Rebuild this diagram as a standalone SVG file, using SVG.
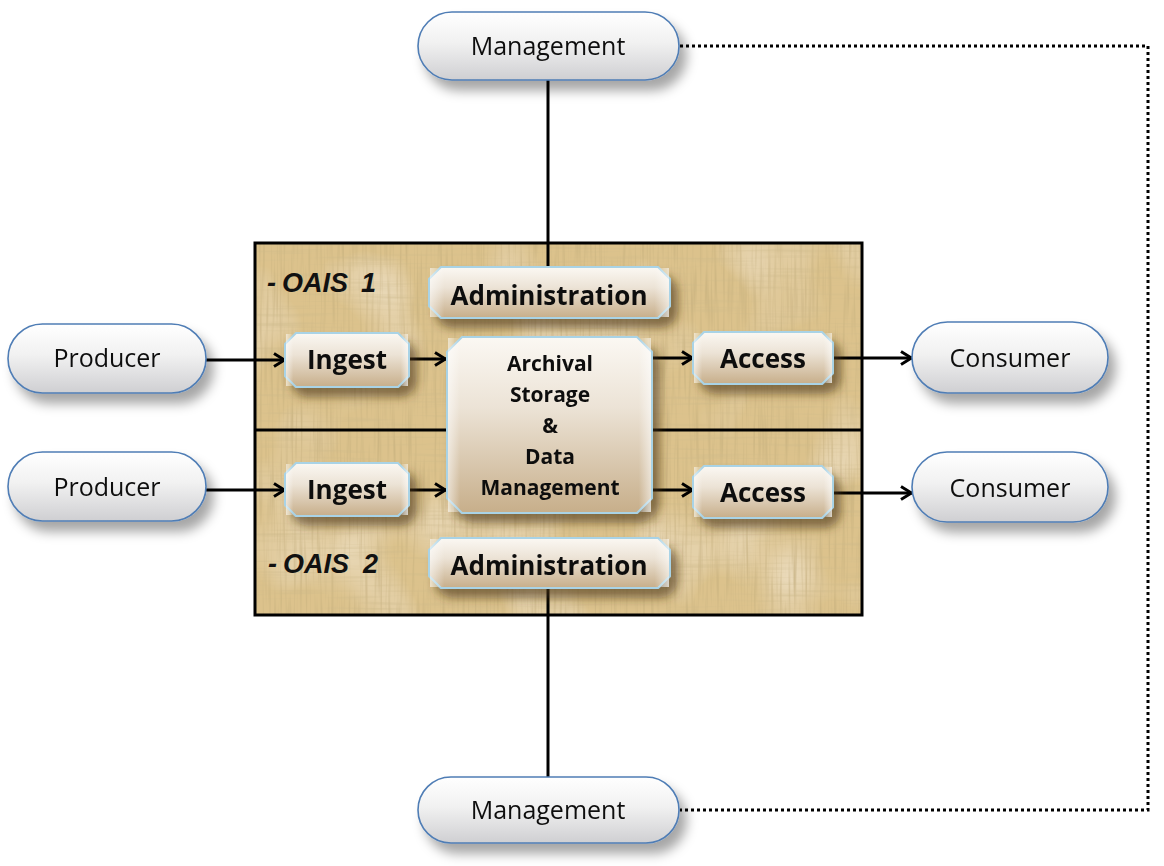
<svg xmlns="http://www.w3.org/2000/svg" width="1164" height="866" viewBox="0 0 1164 866">
<defs>
  <linearGradient id="pillFill" x1="0" y1="0" x2="0" y2="1">
    <stop offset="0" stop-color="#ffffff"/>
    <stop offset="0.45" stop-color="#f1f1f1"/>
    <stop offset="1" stop-color="#cfcfd2"/>
  </linearGradient>
  <linearGradient id="boxFill" x1="0" y1="0" x2="0" y2="1">
    <stop offset="0" stop-color="#fbf8f3"/>
    <stop offset="0.4" stop-color="#ece3d6"/>
    <stop offset="1" stop-color="#c7ae8a"/>
  </linearGradient>
  <linearGradient id="sideShade" x1="0" y1="0" x2="1" y2="0">
    <stop offset="0" stop-color="#ffffff" stop-opacity="0.55"/>
    <stop offset="0.06" stop-color="#ffffff" stop-opacity="0"/>
    <stop offset="0.94" stop-color="#ffffff" stop-opacity="0"/>
    <stop offset="1" stop-color="#ffffff" stop-opacity="0.55"/>
  </linearGradient>
  <filter id="papyrus" x="0" y="0" width="100%" height="100%">
    <feFlood flood-color="#dcc28c" result="base"/>
    <feTurbulence type="fractalNoise" baseFrequency="0.35 0.015" numOctaves="2" seed="3" result="n1"/>
    <feColorMatrix in="n1" type="matrix" values="0 0 0 0 0.55  0 0 0 0 0.42  0 0 0 0 0.2  0 0 0 1.6 -0.75" result="c1"/>
    <feTurbulence type="fractalNoise" baseFrequency="0.012 0.3" numOctaves="2" seed="9" result="n2"/>
    <feColorMatrix in="n2" type="matrix" values="0 0 0 0 0.6  0 0 0 0 0.48  0 0 0 0 0.25  0 0 0 1.2 -0.6" result="c2"/>
    <feTurbulence type="fractalNoise" baseFrequency="0.012 0.01" numOctaves="2" seed="5" result="n3"/>
    <feColorMatrix in="n3" type="matrix" values="0 0 0 0 0.97  0 0 0 0 0.92  0 0 0 0 0.8  0 0 0 1.2 -0.6" result="c3"/>
    <feMerge>
      <feMergeNode in="base"/>
      <feMergeNode in="c3"/>
      <feMergeNode in="c1"/>
      <feMergeNode in="c2"/>
    </feMerge>
  </filter>
  <filter id="pillShadow" x="-20%" y="-30%" width="150%" height="180%">
    <feDropShadow dx="7" dy="10" stdDeviation="6" flood-color="#000000" flood-opacity="0.35"/>
  </filter>
  <filter id="boxShadow" x="-20%" y="-30%" width="150%" height="180%">
    <feDropShadow dx="7" dy="9" stdDeviation="5" flood-color="#4a3010" flood-opacity="0.6"/>
  </filter>
  <marker id="arrow" viewBox="0 0 14 16" refX="13" refY="8" markerWidth="14" markerHeight="16" markerUnits="userSpaceOnUse" orient="auto">
    <path d="M2,1.5 L12.5,8 L2,14.5" fill="none" stroke="#000" stroke-width="3" stroke-linejoin="miter"/>
  </marker>
  <style>
    .pill { fill: url(#pillFill); stroke: #4f7db5; stroke-width: 1.6; }
    .pilltxt { font-family: "Open Sans", "Liberation Sans", sans-serif; font-size: 25px; fill: #111; text-anchor: middle; }
    .box { fill: url(#boxFill); stroke: #a9d3e6; stroke-width: 2; }
    .boxhl { fill: url(#sideShade); stroke: none; }
    .boxtxt { font-family: "Open Sans", "Liberation Sans", sans-serif; font-weight: 700; font-size: 26px; fill: #111; text-anchor: middle; }
    .archtxt { font-family: "Open Sans", "Liberation Sans", sans-serif; font-weight: 700; font-size: 21px; fill: #111; text-anchor: middle; }
    .oais { font-family: "Liberation Sans", Arial, sans-serif; font-weight: 700; font-style: italic; font-size: 27px; fill: #111; }
    .line { stroke: #000; stroke-width: 3; fill: none; }
    .arr { stroke: #000; stroke-width: 3; fill: none; marker-end: url(#arrow); }
    .dot { stroke: #000; stroke-width: 3; fill: none; stroke-dasharray: 3 3; }
  </style>
</defs>

<rect x="0" y="0" width="1164" height="866" fill="#ffffff"/>

<!-- OAIS container -->
<g id="oais-container">
  <rect x="255" y="243" width="607" height="372" filter="url(#papyrus)"/>
  <rect x="255" y="243" width="607" height="372" fill="none" stroke="#000" stroke-width="3"/>
  <line x1="255" y1="430" x2="448" y2="430" class="line"/>
  <line x1="652" y1="430" x2="862" y2="430" class="line"/>
  <text y="292" class="oais"><tspan x="267">-</tspan><tspan x="282">OAIS</tspan><tspan x="361">1</tspan></text>
  <text y="573" class="oais"><tspan x="268">-</tspan><tspan x="283">OAIS</tspan><tspan x="363">2</tspan></text>
</g>

<!-- connectors -->
<g id="connectors">
  <line x1="548" y1="80" x2="548" y2="267" class="line"/>
  <line x1="548" y1="588" x2="548" y2="777" class="line"/>
  <path d="M680,46 H1148 V810 H680" class="dot"/>
  <line x1="206" y1="360" x2="285" y2="360" class="arr"/>
  <line x1="410" y1="359" x2="446" y2="359" class="arr"/>
  <line x1="652" y1="358" x2="693" y2="358" class="arr"/>
  <line x1="833" y1="358" x2="912" y2="358" class="arr"/>
  <line x1="206" y1="490" x2="285" y2="490" class="arr"/>
  <line x1="410" y1="490" x2="446" y2="490" class="arr"/>
  <line x1="652" y1="490" x2="693" y2="490" class="arr"/>
  <line x1="833" y1="493" x2="912" y2="493" class="arr"/>
</g>

<!-- pills -->
<g id="management-top" filter="url(#pillShadow)">
  <rect x="418" y="12" width="261" height="68" rx="34" class="pill"/>
  <text x="548" y="55" class="pilltxt">Management</text>
</g>
<g id="management-bottom" filter="url(#pillShadow)">
  <rect x="418" y="777" width="261" height="66" rx="33" class="pill"/>
  <text x="548" y="819" class="pilltxt">Management</text>
</g>
<g id="producer-1" filter="url(#pillShadow)">
  <rect x="8" y="324" width="198" height="69" rx="34.5" class="pill"/>
  <text x="107" y="367" class="pilltxt">Producer</text>
</g>
<g id="producer-2" filter="url(#pillShadow)">
  <rect x="8" y="452" width="198" height="69" rx="34.5" class="pill"/>
  <text x="107" y="496" class="pilltxt">Producer</text>
</g>
<g id="consumer-1" filter="url(#pillShadow)">
  <rect x="912" y="322" width="196" height="71" rx="35.5" class="pill"/>
  <text x="1010" y="367" class="pilltxt">Consumer</text>
</g>
<g id="consumer-2" filter="url(#pillShadow)">
  <rect x="912" y="452" width="196" height="70" rx="35" class="pill"/>
  <text x="1010" y="497" class="pilltxt">Consumer</text>
</g>

<!-- functional entities -->
<g id="administration-1" filter="url(#boxShadow)">
  <path d="M441,267 H658 L670,279 V306 L658,318 H441 L429,306 V279 Z" class="box"/>
  <rect x="430" y="268" width="239" height="49" class="boxhl"/>
  <text x="549" y="305" class="boxtxt">Administration</text>
</g>
<g id="ingest-1" filter="url(#boxShadow)">
  <path d="M296,333 H398 L409,344 V376 L398,387 H296 L285,376 V344 Z" class="box"/>
  <rect x="286" y="334" width="122" height="52" class="boxhl"/>
  <text x="347" y="369" class="boxtxt">Ingest</text>
</g>
<g id="archival-storage" filter="url(#boxShadow)">
  <path d="M462,337 H637 L652,352 V498 L637,513 H462 L447,498 V352 Z" class="box"/>
  <rect x="448" y="338" width="203" height="174" class="boxhl"/>
  <text x="550" y="371" class="archtxt">Archival</text>
  <text x="550" y="402" class="archtxt">Storage</text>
  <text x="550" y="433" class="archtxt">&amp;</text>
  <text x="550" y="464" class="archtxt">Data</text>
  <text x="550" y="495" class="archtxt">Management</text>
</g>
<g id="access-1" filter="url(#boxShadow)">
  <path d="M704,332 H822 L833,343 V373 L822,384 H704 L693,373 V343 Z" class="box"/>
  <rect x="694" y="333" width="138" height="50" class="boxhl"/>
  <text x="763" y="368" class="boxtxt">Access</text>
</g>
<g id="ingest-2" filter="url(#boxShadow)">
  <path d="M296,463 H398 L409,474 V505 L398,516 H296 L285,505 V474 Z" class="box"/>
  <rect x="286" y="464" width="122" height="51" class="boxhl"/>
  <text x="347" y="499" class="boxtxt">Ingest</text>
</g>
<g id="access-2" filter="url(#boxShadow)">
  <path d="M704,466 H822 L833,477 V507 L822,518 H704 L693,507 V477 Z" class="box"/>
  <rect x="694" y="467" width="138" height="50" class="boxhl"/>
  <text x="763" y="502" class="boxtxt">Access</text>
</g>
<g id="administration-2" filter="url(#boxShadow)">
  <path d="M441,538 H658 L670,550 V576 L658,588 H441 L429,576 V550 Z" class="box"/>
  <rect x="430" y="539" width="239" height="48" class="boxhl"/>
  <text x="549" y="575" class="boxtxt">Administration</text>
</g>
</svg>
